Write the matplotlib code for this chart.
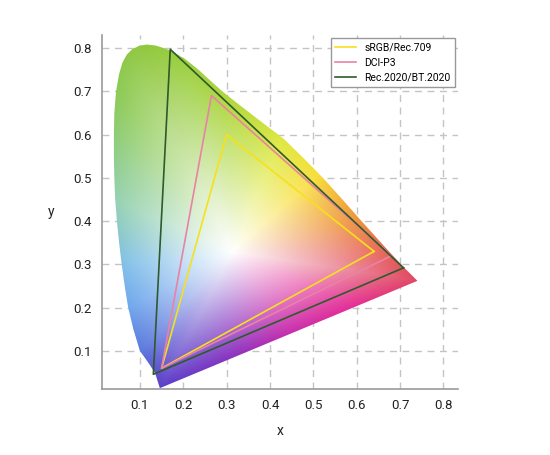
import numpy as np
import matplotlib
matplotlib.use("Agg")
import matplotlib.pyplot as plt
from matplotlib.patches import Polygon

plt.rcParams['font.family'] = ['Roboto', 'DejaVu Sans']

# spectral locus outline (x, y)
locus_x = [0.146, 0.135, 0.118, 0.100, 0.085, 0.073, 0.065, 0.058, 0.052, 0.047,
           0.043, 0.041, 0.040, 0.040, 0.041, 0.045, 0.052, 0.060, 0.070, 0.082,
           0.098, 0.115, 0.135, 0.155, 0.175, 0.205, 0.235, 0.262, 0.290, 0.325,
           0.360, 0.395, 0.432, 0.478, 0.523, 0.568, 0.612, 0.658, 0.704, 0.740]
locus_y = [0.014, 0.049, 0.075, 0.100, 0.150, 0.200, 0.250, 0.300, 0.350, 0.400,
           0.450, 0.500, 0.550, 0.600, 0.650, 0.700, 0.740, 0.767, 0.785, 0.797,
           0.805, 0.808, 0.806, 0.800, 0.792, 0.774, 0.750, 0.725, 0.700, 0.672,
           0.645, 0.618, 0.590, 0.545, 0.499, 0.449, 0.399, 0.348, 0.298, 0.262]

# colours seen along the edge of the diagram
edge_x = [0.740, 0.600, 0.500, 0.430, 0.300, 0.170, 0.110, 0.050, 0.040, 0.040,
          0.057, 0.072, 0.100, 0.146, 0.300, 0.450, 0.600]
edge_y = [0.262, 0.400, 0.500, 0.600, 0.700, 0.790, 0.805, 0.700, 0.550, 0.450,
          0.300, 0.200, 0.100, 0.014, 0.080, 0.140, 0.200]
edge_rgb = [(225, 70, 100), (238, 145, 60), (248, 222, 55), (222, 232, 62),
            (175, 215, 60), (150, 205, 60), (145, 200, 62), (140, 202, 85),
            (145, 206, 140), (150, 210, 178), (130, 192, 232), (112, 168, 236),
            (92, 122, 222), (92, 62, 200), (135, 50, 192), (200, 45, 172),
            (228, 45, 150)]
white_point = (0.3127, 0.329)

gamut_names = ["sRGB/Rec.709", "DCI-P3", "Rec.2020/BT.2020"]
gamut_x = [[0.640, 0.300, 0.150], [0.680, 0.265, 0.150], [0.708, 0.170, 0.131]]
gamut_y = [[0.330, 0.600, 0.060], [0.320, 0.690, 0.060], [0.292, 0.797, 0.046]]
gamut_colors = ["#f7e01c", "#e883a3", "#2f5a2a"]


def angle_from_white(x, y):
    return np.degrees(np.arctan2(np.asarray(y) - white_point[1],
                                 np.asarray(x) - white_point[0])) % 360


def build_color_field(n=700):
    gx = np.linspace(0.0, 0.85, n)
    gy = np.linspace(0.0, 0.85, n)
    X, Y = np.meshgrid(gx, gy)
    theta = angle_from_white(X, Y)
    dist = np.hypot(X - white_point[0], Y - white_point[1])

    # boundary distance for every direction
    px = np.array(locus_x + [locus_x[0]])
    py = np.array(locus_y + [locus_y[0]])
    dense_x, dense_y = [], []
    for i in range(len(px) - 1):
        t = np.linspace(0, 1, 40, endpoint=False)
        dense_x.append(px[i] + (px[i + 1] - px[i]) * t)
        dense_y.append(py[i] + (py[i + 1] - py[i]) * t)
    dense_x = np.concatenate(dense_x)
    dense_y = np.concatenate(dense_y)
    bth = angle_from_white(dense_x, dense_y)
    bd = np.hypot(dense_x - white_point[0], dense_y - white_point[1])
    order = np.argsort(bth)
    dmax = np.interp(theta, bth[order], bd[order], period=360)
    s = np.clip(dist / dmax, 0, 1) ** 1.0

    eth = angle_from_white(edge_x, edge_y)
    eorder = np.argsort(eth)
    rgb = np.array(edge_rgb, dtype=float)[eorder] / 255.0
    img = np.zeros(X.shape + (3,))
    for c in range(3):
        edge_c = np.interp(theta, eth[eorder], rgb[:, c], period=360)
        img[..., c] = 1 - s * (1 - edge_c)
    return img, (gx[0], gx[-1], gy[0], gy[-1])


fig = plt.figure(figsize=(5.5, 4.55), dpi=100)
ax = fig.add_axes([0.185, 0.145, 0.648, 0.778])

img, extent = build_color_field()
outline = Polygon(list(zip(locus_x, locus_y)), closed=True, facecolor='none',
                  edgecolor='none')
ax.add_patch(outline)
im = ax.imshow(img, extent=extent, origin='lower', interpolation='bilinear',
               zorder=1, aspect='auto')
im.set_clip_path(outline)

for name, gxs, gys, col in zip(gamut_names, gamut_x, gamut_y, gamut_colors):
    ax.plot(gxs + [gxs[0]], gys + [gys[0]], color=col, lw=1.2, label=name,
            zorder=3)

ax.set_xlim(0.012, 0.834)
ax.set_ylim(0.012, 0.83)
ax.set_xticks([0.1, 0.2, 0.3, 0.4, 0.5, 0.6, 0.7, 0.8])
ax.set_yticks([0.1, 0.2, 0.3, 0.4, 0.5, 0.6, 0.7, 0.8])
ax.set_axisbelow(True)
ax.grid(True, color='#c4c4c4', linestyle=(0, (5, 4)), lw=1.0, zorder=0)
ax.tick_params(length=0, labelsize=9.5, colors='#222222', pad=7)
for side in ('top', 'right'):
    ax.spines[side].set_visible(False)
for side in ('left', 'bottom'):
    ax.spines[side].set_color('#9a9a9a')
    ax.spines[side].set_linewidth(1.2)

ax.set_xlabel('x', fontsize=10, labelpad=9, color='#222222')
ax.set_ylabel('y', fontsize=10, labelpad=16, rotation=0, va='center',
              color='#222222')

leg = ax.legend(loc='upper right', fontsize=7.5, frameon=True, fancybox=False,
                framealpha=1, edgecolor='#999999', borderaxespad=0.3,
                handlelength=2.0)
leg.get_frame().set_linewidth(1.0)

fig.savefig('out.png', dpi=100)
